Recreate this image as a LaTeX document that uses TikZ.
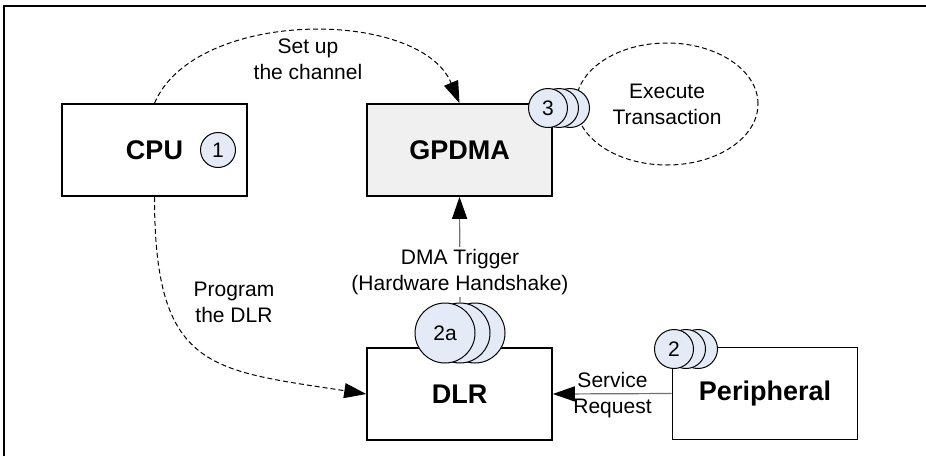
\documentclass[tikz,border=0pt]{standalone}
\usepackage{fontspec}
\setmainfont{Liberation Sans}
\usetikzlibrary{arrows.meta,shapes.geometric}
\definecolor{kruh}{RGB}{228,235,247}
\definecolor{sediva}{RGB}{240,240,240}

\begin{document}
\begin{tikzpicture}[x=0.5pt,y=-0.5pt,>={Triangle[length=11pt,width=7.5pt]},
    blok/.style={draw,line width=0.8pt,minimum width=92.5pt,minimum height=46pt,font=\fontsize{13.5}{15}\selectfont\bfseries},
    popis/.style={align=center,font=\fontsize{10.5}{13}\selectfont,inner sep=1pt},
    krok/.style={circle,draw,fill=kruh,line width=0.5pt,inner sep=0pt,minimum size=19.5pt,font=\fontsize{10.5}{12}\selectfont},
    carka/.style={dash pattern=on 2.5pt off 1.5pt,line width=0.5pt},
    signal/.style={draw=black!55,line width=0.6pt,-{Triangle[length=11pt,width=7.5pt,color=black]}}]

    % okraj
    \useasboundingbox (0,0) rectangle (926,456);
    \draw[line width=1pt] (4,456) -- (4,6) -- (926,6);

    % bloky
    \node[blok] (cpu) at (154.5,150) {CPU};
    \node[blok,fill=sediva] (gpdma) at (459.5,150) {GPDMA};
    \node[blok] (dlr) at (459.5,394) {DLR};
    \node[blok] (periph) at (765,393.5) {Peripheral};

    % transakce
    \node[ellipse,draw,carka,minimum width=91pt,minimum height=61pt,popis] (exec) at (667,104) {Execute\\Transaction};

    % spoje
    \draw[carka,->] (cpu.north) .. controls (195,8) and (420,8) .. (gpdma.north);
    \node[popis] (nastaveni) at (308,59) {Set up\\the channel};
    \draw[carka,->] (cpu.south) .. controls (154.5,370) and (210,370) .. (dlr.west);
    \node[popis] (program) at (234,302) {Program\\the DLR};
    \draw[signal] (periph.west) -- (dlr.east);
    \node[popis] (pozadavek) at (612.5,395.5) {Service\\Request};

    % kroky
    \node[krok,minimum size=17.5pt] (k1) at (218,150) {1};
    \foreach \i in {2,1} \node[krok] (k3-\i) at ({548+11*\i},108) {};
    \node[krok] (k3) at (548,108) {3};
    \foreach \i in {2,1} \node[krok] (k2-\i) at ({674+12*\i},349) {};
    \node[krok] (k2) at (674,349) {2};
    \foreach \i in {2,1} \node[krok,minimum size=30pt] (k2a-\i) at ({445+15*\i},333) {};
    \node[krok,minimum size=30pt] (k2a) at (445,333) {2a};

    % spouštění
    \draw[signal] (k2a-1.north) -- (gpdma.south);
    \node[popis,fill=white] (trigger) at (460,272) {DMA Trigger\\(Hardware Handshake)};
\end{tikzpicture}
\end{document}
